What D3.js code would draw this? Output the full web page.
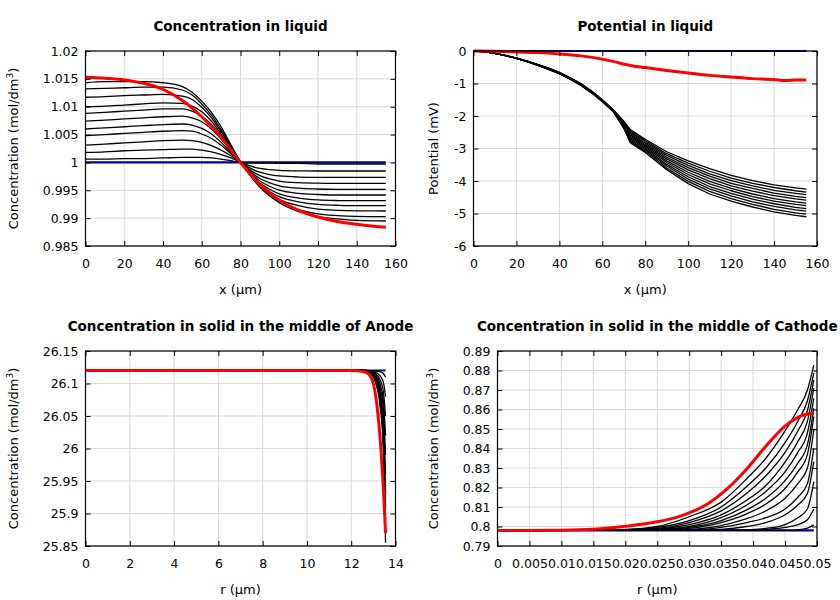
<!DOCTYPE html>
<html><head><meta charset="utf-8">
<script src="https://cdn.jsdelivr.net/npm/d3@7"></script>
<style>body{margin:0;background:#fff}svg{display:block;font-family:"DejaVu Sans",sans-serif}</style>
</head><body><svg id="c" width="840" height="600"></svg>
<script>
// ---------- Panel 1: Concentration in liquid ----------
const liqX = [0,10,20,30,40,50,55,60,65,70,75,80,85,90,95,100,110,120,130,140,155];
const liqConc = [
 [1.0006,1.0006,1.0007,1.0007,1.0008,1.0009,1.0009,1.0009,1.0008,1.0006,1.0003,1.0000, 0.99992,0.99988,0.99986,0.99985,0.99985,0.99972,0.99972,0.99972,0.99972],
 [1.0018,1.0019,1.0021,1.0022,1.0023,1.0024,1.0024,1.0022,1.0019,1.0014,1.0008,1.0001, 0.99938,0.99892,0.99869,0.99857,0.99848,0.99846,0.99846,0.99846,0.99846],
 [1.0031,1.0033,1.0035,1.0037,1.0039,1.0040,1.0039,1.0036,1.0030,1.0022,1.0012,1.0001, 0.99899,0.99824,0.99781,0.99757,0.99738,0.99733,0.99733,0.99733,0.99733],
 [1.0048,1.0050,1.0052,1.0054,1.0056,1.0057,1.0056,1.0051,1.0043,1.0031,1.0016,1.0001, 0.99865,0.99764,0.99704,0.99666,0.99636,0.99627,0.99625,0.99625,0.99625],
 [1.0060,1.0062,1.0064,1.0066,1.0068,1.0069,1.0067,1.0061,1.0051,1.0036,1.0018,1.0001, 0.99836,0.99711,0.99634,0.99581,0.99537,0.99523,0.99518,0.99518,0.99518],
 [1.0074,1.0076,1.0078,1.0080,1.0082,1.0083,1.0080,1.0073,1.0060,1.0042,1.0021,1.0001, 0.99813,0.99667,0.99573,0.99503,0.99444,0.99424,0.99415,0.99415,0.99415],
 [1.0088,1.0090,1.0092,1.0094,1.0096,1.0096,1.0092,1.0083,1.0068,1.0047,1.0024,1.0001, 0.99794,0.99629,0.99519,0.99437,0.99361,0.99327,0.99316,0.99313,0.99313],
 [1.0100,1.0101,1.0103,1.0105,1.0107,1.0106,1.0101,1.0091,1.0074,1.0051,1.0026,1.0001, 0.99782,0.99604,0.99479,0.99386,0.99293,0.99246,0.99231,0.99223,0.99223],
 [1.0117,1.0118,1.0120,1.0121,1.0122,1.0119,1.0113,1.0099,1.0080,1.0055,1.0028,1.0001, 0.99773,0.99581,0.99442,0.99337,0.99224,0.99163,0.99141,0.99131,0.99128],
 [1.0132,1.0133,1.0134,1.0135,1.0135,1.0130,1.0121,1.0105,1.0085,1.0059,1.0030,1.0001, 0.99766,0.99562,0.99406,0.99289,0.99153,0.99075,0.99045,0.99031,0.99026],
 [1.0143,1.0145,1.0145,1.0145,1.0143,1.0136,1.0126,1.0110,1.0090,1.0064,1.0032,1.0001, 0.99769,0.99559,0.99401,0.99275,0.99117,0.99028,0.98986,0.98960,0.98949]
];
const liqRedX = [0,10,20,30,40,50,60,70,80,90,100,110,120,130,140,155];
const liqRed  = [1.0153,1.0151,1.0148,1.0142,1.0131,1.0111,1.0082,1.0045,1.0000,0.9960,0.9932,0.9914,0.9902,0.9894,0.9889,0.98835];
const liqBlueX = [0,155];
const liqBlue  = [1.0,1.0];
const liqXTicks = [0,20,40,60,80,100,120,140,160];
const liqYTicks = [0.985,0.99,0.995,1,1.005,1.01,1.015,1.02];
const liqYLabels = ["0.985","0.99","0.995","1","1.005","1.01","1.015","1.02"];

// ---------- Panel 2: Potential in liquid ----------
const potX = [0,5,10,15,20,25,30,35,40,45,50,55,60,65,70,73,80,90,100,110,120,130,140,150,155];
const potLines = [
 [0,-0.02,-0.07,-0.14,-0.22,-0.31,-0.42,-0.53,-0.66,-0.82,-1.00,-1.23,-1.50,-1.80,-2.16,-2.42,-2.72,-3.10,-3.38,-3.62,-3.83,-3.99,-4.12,-4.21,-4.25],
 [0,-0.02,-0.07,-0.14,-0.22,-0.31,-0.42,-0.53,-0.66,-0.83,-1.01,-1.24,-1.51,-1.81,-2.18,-2.46,-2.76,-3.16,-3.45,-3.70,-3.91,-4.07,-4.20,-4.30,-4.34],
 [0,-0.02,-0.07,-0.14,-0.22,-0.31,-0.42,-0.54,-0.67,-0.83,-1.01,-1.24,-1.51,-1.81,-2.20,-2.50,-2.80,-3.21,-3.52,-3.78,-3.99,-4.15,-4.29,-4.38,-4.42],
 [0,-0.02,-0.07,-0.14,-0.22,-0.32,-0.43,-0.54,-0.67,-0.84,-1.02,-1.25,-1.52,-1.82,-2.23,-2.54,-2.84,-3.27,-3.59,-3.85,-4.07,-4.23,-4.37,-4.47,-4.51],
 [0,-0.02,-0.07,-0.14,-0.22,-0.32,-0.43,-0.55,-0.68,-0.84,-1.02,-1.25,-1.52,-1.82,-2.25,-2.58,-2.88,-3.32,-3.66,-3.93,-4.15,-4.31,-4.45,-4.55,-4.59],
 [0,-0.02,-0.07,-0.14,-0.23,-0.32,-0.43,-0.55,-0.68,-0.85,-1.03,-1.26,-1.53,-1.83,-2.27,-2.62,-2.92,-3.38,-3.73,-4.01,-4.23,-4.40,-4.54,-4.64,-4.68],
 [0,-0.02,-0.07,-0.14,-0.23,-0.32,-0.43,-0.55,-0.68,-0.85,-1.04,-1.27,-1.54,-1.84,-2.29,-2.66,-2.96,-3.43,-3.80,-4.09,-4.30,-4.48,-4.62,-4.72,-4.76],
 [0,-0.02,-0.07,-0.14,-0.23,-0.32,-0.43,-0.56,-0.69,-0.86,-1.04,-1.27,-1.54,-1.84,-2.31,-2.70,-3.00,-3.49,-3.87,-4.17,-4.38,-4.56,-4.70,-4.81,-4.85],
 [0,-0.02,-0.07,-0.14,-0.23,-0.33,-0.44,-0.56,-0.69,-0.86,-1.05,-1.28,-1.55,-1.85,-2.34,-2.74,-3.04,-3.54,-3.94,-4.24,-4.46,-4.64,-4.78,-4.89,-4.93],
 [0,-0.02,-0.07,-0.14,-0.23,-0.33,-0.44,-0.56,-0.70,-0.87,-1.05,-1.28,-1.55,-1.85,-2.36,-2.78,-3.08,-3.60,-4.01,-4.32,-4.54,-4.72,-4.87,-4.98,-5.02],
 [0,-0.02,-0.07,-0.14,-0.23,-0.33,-0.44,-0.57,-0.70,-0.87,-1.06,-1.29,-1.56,-1.86,-2.38,-2.82,-3.12,-3.65,-4.08,-4.40,-4.62,-4.80,-4.95,-5.06,-5.10]
];
const potRedX = [0,10,20,30,40,50,60,65,72,80,90,100,110,120,130,140,145,150,155];
const potRed  = [0,-0.01,-0.03,-0.05,-0.09,-0.15,-0.25,-0.32,-0.43,-0.51,-0.60,-0.68,-0.75,-0.80,-0.85,-0.88,-0.91,-0.895,-0.89];
const potBlueX = [0,155];
const potBlue  = [0,0];
const potXTicks = [0,20,40,60,80,100,120,140,160];
const potYTicks = [-6,-5,-4,-3,-2,-1,0];
const potYLabels = ["-6","-5","-4","-3","-2","-1","0"];

// ---------- Panel 3: Concentration in solid, anode ----------
const anoX = [0,12,12.6,12.9,13.1,13.3,13.45,13.55];
const anoLines = [
 [26.12,26.12,26.12,26.1198,26.1193,26.118,26.1155,26.11],
 [26.12,26.12,26.12,26.1192,26.1172,26.112,26.102,26.08],
 [26.12,26.12,26.12,26.1186,26.1151,26.106,26.0885,26.05],
 [26.12,26.12,26.12,26.118,26.113,26.10,26.075,26.02],
 [26.12,26.12,26.12,26.1174,26.1109,26.094,26.0615,25.99],
 [26.12,26.12,26.12,26.1168,26.1088,26.088,26.048,25.96],
 [26.12,26.12,26.12,26.1162,26.1067,26.082,26.0345,25.93],
 [26.12,26.12,26.12,26.1158,26.1053,26.078,26.0255,25.91],
 [26.12,26.12,26.12,26.1154,26.1039,26.074,26.0165,25.89],
 [26.12,26.12,26.12,26.115,26.1025,26.07,26.0075,25.87],
 [26.12,26.12,26.12,26.1147,26.1015,26.067,26.0008,25.855]
];
const anoRedX = [0,12,12.3,12.6,12.8,13.0,13.2,13.35,13.45,13.55];
const anoRed  = [26.12,26.12,26.1195,26.118,26.114,26.10,26.055,25.995,25.94,25.87];
const anoBlueX = [0,13.55];
const anoBlue  = [26.12,26.12];
const anoXTicks = [0,2,4,6,8,10,12,14];
const anoYTicks = [25.85,25.9,25.95,26,26.05,26.1,26.15];
const anoYLabels = ["25.85","25.9","25.95","26","26.05","26.1","26.15"];

// ---------- Panel 4: Concentration in solid, cathode ----------
const catX = [0,0.01,0.02,0.025,0.03,0.035,0.039,0.042,0.045,0.047,0.0485,0.0495];
const catLines = [
 [0.798,0.798,0.798,0.798,0.798,0.798,0.798,0.798,0.798,0.7983,0.7992,0.8008],
 [0.798,0.798,0.798,0.798,0.798,0.798,0.798,0.7985,0.7995,0.801,0.8035,0.809],
 [0.798,0.798,0.798,0.798,0.798,0.798,0.7982,0.799,0.801,0.8045,0.809,0.823],
 [0.798,0.798,0.798,0.798,0.798,0.7985,0.800,0.802,0.806,0.811,0.817,0.8332],
 [0.798,0.798,0.798,0.798,0.798,0.7995,0.802,0.8045,0.809,0.815,0.822,0.8401],
 [0.798,0.798,0.798,0.798,0.7985,0.8005,0.804,0.808,0.8145,0.822,0.830,0.8495],
 [0.798,0.798,0.798,0.798,0.799,0.802,0.8065,0.8115,0.8195,0.828,0.837,0.8563],
 [0.798,0.798,0.798,0.7983,0.7995,0.803,0.8085,0.8145,0.8235,0.8325,0.842,0.8606],
 [0.798,0.798,0.798,0.7985,0.800,0.8045,0.811,0.818,0.828,0.838,0.848,0.8657],
 [0.798,0.798,0.798,0.7987,0.801,0.806,0.8135,0.821,0.833,0.8435,0.854,0.8709],
 [0.798,0.798,0.7982,0.799,0.802,0.808,0.817,0.826,0.838,0.849,0.8595,0.8751],
 [0.798,0.798,0.7983,0.7995,0.803,0.810,0.8205,0.830,0.843,0.854,0.8645,0.8786],
 [0.798,0.798,0.7985,0.800,0.805,0.8125,0.8245,0.835,0.849,0.860,0.870,0.8828]
];
const catRedX = [0,0.005,0.01,0.015,0.02,0.025,0.028,0.03,0.033,0.036,0.039,0.042,0.045,0.047,0.0495];
const catRed  = [0.798,0.798,0.7981,0.7986,0.8001,0.8024,0.8047,0.8070,0.8118,0.8195,0.8295,0.8412,0.8515,0.8560,0.8583];
const catBlueX = [0,0.0495];
const catBlue  = [0.798,0.798];
const catXTicks = [0,0.005,0.01,0.015,0.02,0.025,0.03,0.035,0.04,0.045,0.05];
const catXLabels = ["0","0.005","0.01","0.015","0.02","0.025","0.03","0.035","0.04","0.045","0.05"];
const catYTicks = [0.79,0.8,0.81,0.82,0.83,0.84,0.85,0.86,0.87,0.88,0.89];
const catYLabels = ["0.79","0.8","0.81","0.82","0.83","0.84","0.85","0.86","0.87","0.88","0.89"];

// ---------- drawing ----------
const svg = d3.select("#c");
const TICK_FONT = 12.5, LABEL_FONT = 13, TITLE_FONT = 13.5;

function panel(cfg) {
  const g = svg.append("g");
  const x = d3.scaleLinear().domain(cfg.xDomain).range([cfg.left, cfg.right]);
  const y = d3.scaleLinear().domain(cfg.yDomain).range([cfg.bottom, cfg.top]);

  g.append("g").selectAll("line").data(cfg.xTicks).join("line")
    .attr("x1", d => x(d)).attr("x2", d => x(d))
    .attr("y1", cfg.top).attr("y2", cfg.bottom)
    .attr("stroke", "#d9d9d9").attr("stroke-width", 1);
  g.append("g").selectAll("line").data(cfg.yTicks).join("line")
    .attr("y1", d => y(d)).attr("y2", d => y(d))
    .attr("x1", cfg.left).attr("x2", cfg.right)
    .attr("stroke", "#d9d9d9").attr("stroke-width", 1);

  const clipId = "clip" + cfg.id;
  svg.append("clipPath").attr("id", clipId).append("rect")
    .attr("x", cfg.left).attr("y", cfg.top - 2)
    .attr("width", cfg.right - cfg.left).attr("height", cfg.bottom - cfg.top + 4);
  const cg = g.append("g").attr("clip-path", `url(#${clipId})`);
  const mk = (xs, c) => d3.line().x((d, i) => x(xs[i])).y(d => y(d)).curve(c || d3.curveMonotoneX);

  cg.append("path").attr("d", mk(cfg.blueX)(cfg.blue))
    .attr("fill", "none").attr("stroke", "#0000a0").attr("stroke-width", 2.2);
  cfg.lines.forEach(arr => {
    cg.append("path").attr("d", mk(cfg.lineX, cfg.lineCurve)(arr))
      .attr("fill", "none").attr("stroke", "#000").attr("stroke-width", 1.3)
      .attr("stroke-linejoin", "round");
  });
  cg.append("path").attr("d", mk(cfg.redX)(cfg.red))
    .attr("fill", "none").attr("stroke", "#ff0000").attr("stroke-width", 3)
    .attr("stroke-linejoin", "round");

  const xf = (d, i) => cfg.xLabels ? cfg.xLabels[i] : String(d);
  const yf = (d, i) => cfg.yLabels[i];
  const ax = (sel) => sel.call(s => s.select(".domain").remove())
    .call(s => s.selectAll("line").attr("stroke", "#000"))
    .call(s => s.selectAll("text").attr("font-size", TICK_FONT).attr("font-family", "DejaVu Sans").attr("fill", "#000"));

  g.append("g").attr("transform", `translate(0,${cfg.bottom})`)
    .call(d3.axisBottom(x).tickValues(cfg.xTicks).tickFormat(xf).tickSize(-5).tickPadding(13)).call(ax);
  g.append("g").attr("transform", `translate(0,${cfg.top})`)
    .call(d3.axisTop(x).tickValues(cfg.xTicks).tickFormat("").tickSize(-5)).call(ax);
  g.append("g").attr("transform", `translate(${cfg.left},0)`)
    .call(d3.axisLeft(y).tickValues(cfg.yTicks).tickFormat(yf).tickSize(-5).tickPadding(7)).call(ax);
  g.append("g").attr("transform", `translate(${cfg.right},0)`)
    .call(d3.axisRight(y).tickValues(cfg.yTicks).tickFormat("").tickSize(-5)).call(ax);

  g.append("rect").attr("x", cfg.left).attr("y", cfg.top)
    .attr("width", cfg.right - cfg.left).attr("height", cfg.bottom - cfg.top)
    .attr("fill", "none").attr("stroke", "#000").attr("stroke-width", 1.2);

  const cx = (cfg.left + cfg.right) / 2;
  g.append("text").attr("x", cx).attr("y", cfg.top - 20)
    .attr("text-anchor", "middle").attr("font-weight", "bold").attr("font-size", TITLE_FONT)
    .text(cfg.title);
  g.append("text").attr("x", cx).attr("y", cfg.bottom + 48)
    .attr("text-anchor", "middle").attr("font-size", LABEL_FONT).text(cfg.xLabel);
  const cy = (cfg.top + cfg.bottom) / 2;
  const yl = g.append("text").attr("transform", `translate(${cfg.yLabelX},${cy}) rotate(-90)`)
    .attr("text-anchor", "middle").attr("font-size", LABEL_FONT);
  if (cfg.ySup) {
    yl.append("tspan").text(cfg.yLabel);
    yl.append("tspan").attr("dy", -5).attr("font-size", 9).text(cfg.ySup);
    yl.append("tspan").attr("dy", 5).text(cfg.yLabelEnd);
  } else {
    yl.text(cfg.yLabel);
  }
}

panel({id: 1, left: 85.5, right: 395.5, top: 51, bottom: 246,
  xDomain: [0,160], yDomain: [0.985,1.02], xTicks: liqXTicks, yTicks: liqYTicks, yLabels: liqYLabels,
  lineX: liqX, lines: liqConc, redX: liqRedX, red: liqRed, blueX: liqBlueX, blue: liqBlue,
  title: "Concentration in liquid", xLabel: "x (μm)", yLabel: "Concentration (mol/dm", ySup: "3", yLabelEnd: ")", yLabelX: 18});

panel({id: 2, left: 473.5, right: 817, top: 51, bottom: 246,
  xDomain: [0,160], yDomain: [-6,0], xTicks: potXTicks, yTicks: potYTicks, yLabels: potYLabels,
  lineX: potX, lines: potLines, lineCurve: d3.curveLinear, redX: potRedX, red: potRed, blueX: potBlueX, blue: potBlue,
  title: "Potential in liquid", xLabel: "x (μm)", yLabel: "Potential (mV)", yLabelX: 438});

panel({id: 3, left: 85.5, right: 395.5, top: 351, bottom: 546,
  xDomain: [0,14], yDomain: [25.85,26.15], xTicks: anoXTicks, yTicks: anoYTicks, yLabels: anoYLabels,
  lineX: anoX, lines: anoLines, redX: anoRedX, red: anoRed, blueX: anoBlueX, blue: anoBlue,
  title: "Concentration in solid in the middle of Anode", xLabel: "r (μm)", yLabel: "Concentration (mol/dm", ySup: "3", yLabelEnd: ")", yLabelX: 18});

panel({id: 4, left: 497.5, right: 817, top: 351, bottom: 546,
  xDomain: [0,0.05], yDomain: [0.79,0.89], xTicks: catXTicks, xLabels: catXLabels, yTicks: catYTicks, yLabels: catYLabels,
  lineX: catX, lines: catLines, redX: catRedX, red: catRed, blueX: catBlueX, blue: catBlue,
  title: "Concentration in solid in the middle of Cathode", xLabel: "r (μm)", yLabel: "Concentration (mol/dm", ySup: "3", yLabelEnd: ")", yLabelX: 438});
</script></body></html>
